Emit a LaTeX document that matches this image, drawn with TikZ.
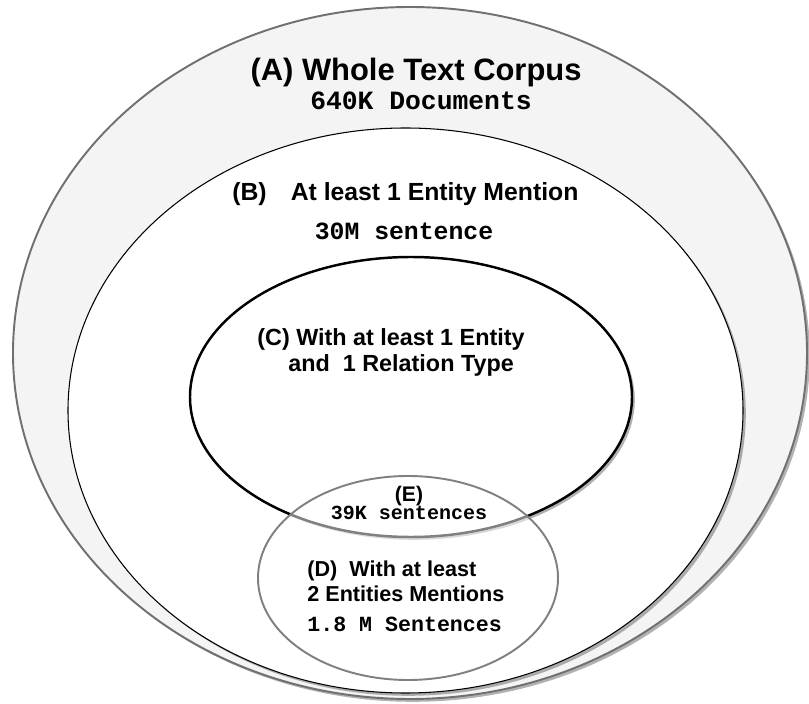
\documentclass[tikz,border=0pt]{standalone}
\usepackage{fontspec}
\setmainfont{Liberation Sans}
\setmonofont{Liberation Mono}
\usetikzlibrary{shadows}
\definecolor{corpusgray}{RGB}{244,244,244}
\definecolor{rimgray}{RGB}{112,112,112}

\begin{document}
\begin{tikzpicture}[x=0.02cm,y=0.02cm]
\colorlet{shadecol}{black}
\tikzstyle{setshade}=[drop shadow={shadow xshift=1.6pt,shadow yshift=-1.6pt,fill=shadecol,opacity=0.3}];
\tikzstyle{lbl}=[anchor=base west,inner sep=0pt,font=\bfseries];
\tikzstyle{cnt}=[anchor=base,inner sep=0pt,font=\ttfamily\bfseries];

\useasboundingbox (0,0) rectangle (809,704);

% the four sets
\begin{scope}
        \draw[setshade,fill=corpusgray,draw=rimgray,line width=1.1pt] (410,351) ellipse [x radius=397,y radius=346];
        \draw[setshade,fill=white,draw=black,line width=0.6pt] (405.5,293.5) ellipse [x radius=337.5,y radius=282.5];
        \draw[setshade,fill=white,draw=black,line width=1.4pt] (411,307) ellipse [x radius=221,y radius=140];
        \draw[fill=white,fill opacity=0.5,draw=black!50,line width=1.1pt] (408,126) ellipse [x radius=150,y radius=102];
\end{scope}

% labels
\begin{scope}
        \node[lbl,anchor=base] (nameA) at (416,623) {\fontsize{17.6}{20}\selectfont (A) Whole Text Corpus};
        \node[cnt] (sizeA) at (421,594) {\fontsize{15}{17}\selectfont 640K Documents};

        \node[lbl] (nameB) at (232,503) {\fontsize{14.1}{16}\selectfont (B)\hspace{0.97em}At least 1 Entity Mention};
        \node[cnt] (sizeB) at (404,464) {\fontsize{14.1}{16}\selectfont 30M sentence};

        \node[lbl] (nameC) at (257,358) {\fontsize{13.3}{15}\selectfont (C) With at least 1 Entity};
        \node[lbl] (nameCb) at (288,332) {\fontsize{13.3}{15}\selectfont and~~1 Relation Type};

        \node[lbl,anchor=base] (nameE) at (409,202) {\fontsize{12}{14}\selectfont (E)};
        \node[cnt] (sizeE) at (409,184) {\fontsize{11.4}{13}\selectfont 39K sentences};

        \node[lbl] (nameD) at (307,127) {\fontsize{12.3}{14}\selectfont (D)~~With at least};
        \node[lbl] (nameDb) at (307,102) {\fontsize{12.3}{14}\selectfont 2 Entities Mentions};
        \node[cnt,anchor=base west] (sizeD) at (307,72) {\fontsize{12.3}{14}\selectfont 1.8 M Sentences};
\end{scope}

\end{tikzpicture}
\end{document}
